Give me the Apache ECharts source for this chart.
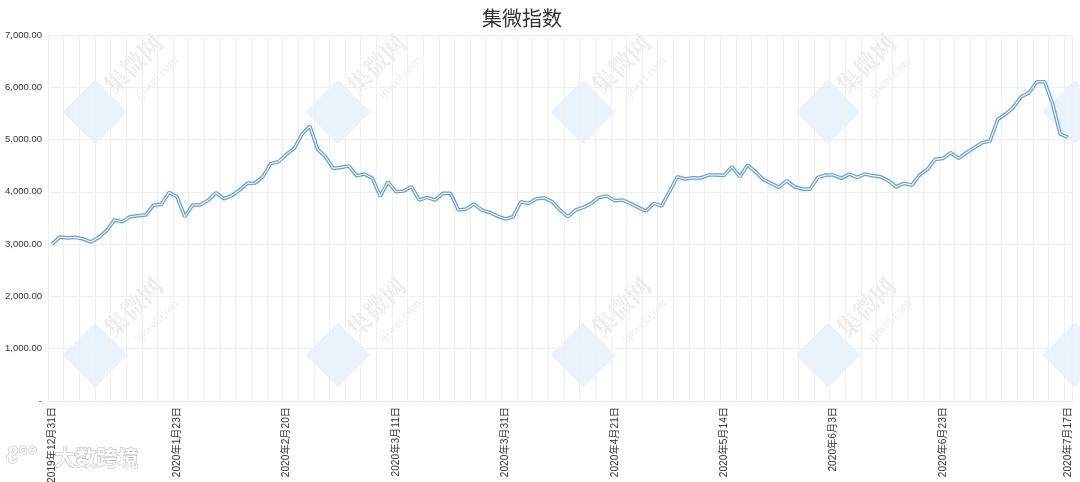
<!DOCTYPE html>
<html>
<head>
<meta charset="utf-8">
<title>集微指数</title>
<script src="https://cdn.jsdelivr.net/npm/echarts@6/dist/echarts.min.js"></script>
<style>
  html, body { margin: 0; padding: 0; background: #fff; }
  #main { width: 1080px; height: 482px; }
</style>
</head>
<body>
<div id="main"></div>
<script>
// 交易日（2019年12月31日 ~ 2020年7月17日）
const dates = [
  '2019年12月31日',
  '2020年1月2日', '2020年1月3日', '2020年1月6日', '2020年1月7日', '2020年1月8日', '2020年1月9日', '2020年1月10日',
  '2020年1月13日', '2020年1月14日', '2020年1月15日', '2020年1月16日', '2020年1月17日', '2020年1月20日', '2020年1月21日',
  '2020年1月22日', '2020年1月23日',
  '2020年2月3日', '2020年2月4日', '2020年2月5日', '2020年2月6日', '2020年2月7日', '2020年2月10日', '2020年2月11日',
  '2020年2月12日', '2020年2月13日', '2020年2月14日', '2020年2月17日', '2020年2月18日', '2020年2月19日', '2020年2月20日',
  '2020年2月21日', '2020年2月24日', '2020年2月25日', '2020年2月26日', '2020年2月27日', '2020年2月28日',
  '2020年3月2日', '2020年3月3日', '2020年3月4日', '2020年3月5日', '2020年3月6日', '2020年3月9日', '2020年3月10日',
  '2020年3月11日', '2020年3月12日', '2020年3月13日', '2020年3月16日', '2020年3月17日', '2020年3月18日', '2020年3月19日',
  '2020年3月20日', '2020年3月23日', '2020年3月24日', '2020年3月25日', '2020年3月26日', '2020年3月27日', '2020年3月30日',
  '2020年3月31日',
  '2020年4月1日', '2020年4月2日', '2020年4月3日', '2020年4月7日', '2020年4月8日', '2020年4月9日', '2020年4月10日',
  '2020年4月13日', '2020年4月14日', '2020年4月15日', '2020年4月16日', '2020年4月17日', '2020年4月20日', '2020年4月21日',
  '2020年4月22日', '2020年4月23日', '2020年4月24日', '2020年4月27日', '2020年4月28日', '2020年4月29日', '2020年4月30日',
  '2020年5月6日', '2020年5月7日', '2020年5月8日', '2020年5月11日', '2020年5月12日', '2020年5月13日', '2020年5月14日',
  '2020年5月15日', '2020年5月18日', '2020年5月19日', '2020年5月20日', '2020年5月21日', '2020年5月22日', '2020年5月25日',
  '2020年5月26日', '2020年5月27日', '2020年5月28日', '2020年5月29日',
  '2020年6月1日', '2020年6月2日', '2020年6月3日', '2020年6月4日', '2020年6月5日', '2020年6月8日', '2020年6月9日',
  '2020年6月10日', '2020年6月11日', '2020年6月12日', '2020年6月15日', '2020年6月16日', '2020年6月17日', '2020年6月18日',
  '2020年6月19日', '2020年6月22日', '2020年6月23日', '2020年6月24日', '2020年6月29日', '2020年6月30日',
  '2020年7月1日', '2020年7月2日', '2020年7月3日', '2020年7月6日', '2020年7月7日', '2020年7月8日', '2020年7月9日',
  '2020年7月10日', '2020年7月13日', '2020年7月14日', '2020年7月15日', '2020年7月16日', '2020年7月17日'
];

// 集微指数
const indexValues = [
  3000,
  3135, 3120, 3130, 3098, 3040, 3130, 3257, 3461, 3429, 3525, 3544, 3557, 3748, 3761, 3990, 3907,
  3525, 3748, 3748, 3843, 3984, 3869, 3927, 4034, 4162, 4169, 4290, 4544, 4576, 4716,
  4831, 5105, 5258, 4812, 4672, 4449,
  4468, 4493, 4308, 4340, 4258, 3920, 4187, 4003, 4015, 4098, 3843, 3894, 3843, 3971, 3971, 3652,
  3671, 3767, 3652, 3607, 3537, 3480,
  3524, 3811, 3779, 3869, 3881, 3811, 3652, 3524, 3652, 3703, 3779, 3894, 3920, 3830,
  3843, 3779, 3703, 3633, 3780, 3730, 4002,
  4289, 4245, 4270, 4264, 4321, 4321, 4315, 4480, 4289, 4512, 4385, 4239, 4162, 4086, 4213, 4098, 4053, 4053,
  4277, 4321, 4321, 4258, 4340, 4277, 4340, 4310, 4290, 4213, 4098, 4162, 4130, 4321, 4430, 4621, 4640, 4748, 4640, 4748,
  4844, 4939, 4971, 5386, 5487, 5615, 5819, 5895, 6105, 6105, 5692, 5105, 5041
];

// 显示的横轴标签
const shownDates = [
  '2019年12月31日', '2020年1月23日', '2020年2月20日', '2020年3月11日', '2020年3月31日',
  '2020年4月21日', '2020年5月14日', '2020年6月3日', '2020年6月23日', '2020年7月17日'
];

const yTicks = [0, 1000, 2000, 3000, 4000, 5000, 6000, 7000];

const fontFamily = '"Liberation Sans", Arial, "Noto Sans CJK SC", sans-serif';

const formatNumber = (v) => {
  if (v === 0) return '-';
  const parts = v.toFixed(2).split('.');
  return parts[0].replace(/\B(?=(\d{3})+(?!\d))/g, ',') + '.' + parts[1];
};

// 水印
const watermarkAt = (x, y) => ({
  type: 'group',
  x: x,
  y: y,
  silent: true,
  z: -10,
  children: [
    {
      type: 'rect',
      rotation: Math.PI / 4,
      shape: { x: -23, y: -23, width: 46, height: 46, r: 3 },
      style: { fill: 'rgba(190, 215, 245, 0.32)' }
    },
    {
      type: 'text',
      x: 38, y: -48,
      rotation: Math.PI / 4,
      style: { text: '集微网', font: 'bold 24px "Noto Serif CJK SC", "Noto Sans CJK SC", serif', fill: 'rgba(210, 210, 210, 0.4)', align: 'center', verticalAlign: 'middle' }
    },
    {
      type: 'text',
      x: 62, y: -34,
      rotation: Math.PI / 4,
      style: { text: 'ijiwei.com', font: '13px serif', fill: 'rgba(210, 210, 210, 0.45)', align: 'center', verticalAlign: 'middle' }
    }
  ]
});

const watermarks = [];
[95, 338, 583, 828, 1075].forEach((x) => {
  watermarks.push(watermarkAt(x, 112));
  watermarks.push(watermarkAt(x, 355));
});
watermarks.push({
  type: 'text',
  left: 6,
  top: 444,
  silent: true,
  z: 10,
  style: {
    text: 'ℓ°°',
    font: 'bold 24px sans-serif',
    fill: 'rgba(255, 255, 255, 0.9)',
    stroke: 'rgba(150, 150, 150, 0.7)',
    lineWidth: 1
  }
});
watermarks.push({
  type: 'text',
  left: 54,
  top: 446,
  silent: true,
  z: 10,
  style: {
    text: '大数跨境',
    font: 'bold 21px "Noto Sans CJK SC", sans-serif',
    fill: 'rgba(255, 255, 255, 0.9)',
    stroke: 'rgba(150, 150, 150, 0.7)',
    lineWidth: 1
  }
});

const chart = echarts.init(document.getElementById('main'));

const option = {
  backgroundColor: '#fff',
  animation: false,
  textStyle: { fontFamily: fontFamily },
  title: {
    text: '集微指数',
    left: 477,
    top: 3,
    textStyle: {
      color: '#333',
      fontSize: 20,
      fontWeight: 'normal',
      fontFamily: '"Noto Sans CJK SC", sans-serif'
    }
  },
  grid: {
    left: 48,
    right: 8,
    top: 35,
    bottom: 81,
    outerBoundsMode: 'none'
  },
  graphic: watermarks,
  xAxis: {
    type: 'category',
    boundaryGap: true,
    data: dates,
    axisLine: { show: true, lineStyle: { color: '#e6e6e6' } },
    axisTick: { show: false },
    axisLabel: {
      rotate: 90,
      interval: (index, value) => shownDates.includes(value),
      color: '#333',
      fontSize: 10.2,
      margin: 6,
      fontFamily: fontFamily
    },
    splitLine: {
      show: true,
      interval: 1,
      lineStyle: { color: '#efefef', width: 1 }
    }
  },
  yAxis: {
    type: 'value',
    min: yTicks[0],
    max: yTicks[yTicks.length - 1],
    interval: 1000,
    axisLine: { show: false },
    axisTick: { show: false },
    axisLabel: {
      color: '#333',
      fontSize: 9.5,
      margin: 6,
      formatter: formatNumber
    },
    splitLine: { lineStyle: { color: '#efefef', width: 1 } }
  },
  series: [
    {
      name: '集微指数',
      type: 'line',
      data: indexValues,
      symbol: 'none',
      lineStyle: { color: '#62a0dc', width: 3.6 },
      z: 3
    },
    {
      name: '集微指数-inner',
      type: 'line',
      data: indexValues,
      symbol: 'none',
      lineStyle: { color: '#ffffff', width: 1.1 },
      z: 4
    }
  ]
};

chart.setOption(option);
window.addEventListener('resize', () => chart.resize());
</script>
</body>
</html>
